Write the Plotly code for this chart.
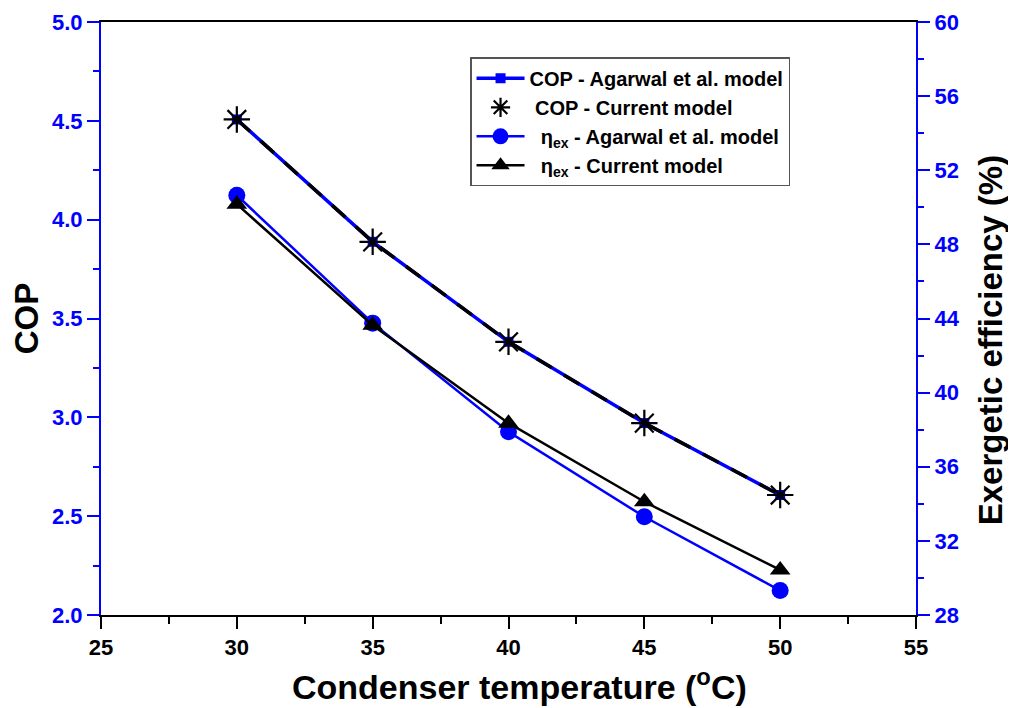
import plotly.graph_objects as go

temps = [30, 35, 40, 45, 50]
cop_agarwal = [4.507, 3.888, 3.382, 2.971, 2.607]
cop_current = [4.507, 3.888, 3.382, 2.971, 2.607]
eta_agarwal = [50.65, 43.75, 37.89, 33.30, 29.32]
eta_current = [50.17, 43.64, 38.35, 34.11, 30.43]

x_ticks = [25, 30, 35, 40, 45, 50, 55]
cop_ticks = [2.0, 2.5, 3.0, 3.5, 4.0, 4.5, 5.0]
eta_ticks = [28, 32, 36, 40, 44, 48, 52, 56, 60]

BLUE = "#0000ff"
FONT = "Liberation Sans"

fig = go.Figure()

fig.add_trace(go.Scatter(
    x=temps, y=cop_agarwal, name="COP - Agarwal et al. model",
    mode="lines+markers", line=dict(color=BLUE, width=3.5),
    marker=dict(symbol="square", size=10, color=BLUE),
))
fig.add_trace(go.Scatter(
    x=temps, y=cop_current, showlegend=False, hoverinfo="skip",
    mode="lines", line=dict(color="black", width=3.5, dash="18px,14px"),
))
fig.add_trace(go.Scatter(
    x=temps, y=cop_current, name="&nbsp;COP - Current model",
    mode="markers",
    marker=dict(symbol="asterisk-open", size=22, color="black",
                line=dict(color="black", width=2.2)),
))
fig.add_trace(go.Scatter(
    x=temps, y=eta_agarwal, name="&nbsp;&nbsp;η<sub>ex</sub> - Agarwal et al. model",
    yaxis="y2", mode="lines+markers", line=dict(color=BLUE, width=2.5),
    marker=dict(symbol="circle", size=17, color=BLUE),
))
fig.add_trace(go.Scatter(
    x=temps, y=eta_current, name="&nbsp;&nbsp;η<sub>ex</sub> - Current model",
    yaxis="y2", mode="lines+markers", line=dict(color="black", width=2.5),
    marker=dict(symbol="triangle-up", size=18, color="black"),
))

tickfont_blue = dict(family=FONT, size=22, color=BLUE, weight=700)
tickfont_black = dict(family=FONT, size=22, color="black", weight=700)
title_font = dict(family=FONT, size=33, color="black", weight=700)

fig.update_layout(
    width=1016, height=708,
    margin=dict(l=93, r=108, t=14, b=101, autoexpand=False),
    paper_bgcolor="white", plot_bgcolor="white",
    font=dict(family=FONT),
    showlegend=True,
    legend=dict(
        x=0.4528, y=0.9405, xanchor="left", yanchor="top",
        bgcolor="white", bordercolor="#555555", borderwidth=1.5,
        font=dict(family=FONT, size=20, color="black", weight=700),
        itemwidth=48, tracegroupgap=0,
    ),
    xaxis=dict(
        range=[25, 55], automargin=False,
        tickvals=x_ticks, ticktext=[str(v) for v in x_ticks],
        showgrid=False, zeroline=False,
        showline=True, linecolor="black", linewidth=2, mirror=True,
        ticks="outside", ticklen=12, tickwidth=2, tickcolor="black",
        minor=dict(ticks="outside", ticklen=7, tickwidth=2, tickcolor="black", dtick=2.5, tick0=25),
        tickfont=tickfont_black,
    ),
    yaxis=dict(
        range=[2.0, 5.0], automargin=False,
        tickvals=cop_ticks, ticktext=[f"{v:.1f}" for v in cop_ticks],
        showgrid=False, zeroline=False,
        showline=True, linecolor=BLUE, linewidth=2,
        ticks="outside", ticklen=12, tickwidth=2, tickcolor=BLUE,
        minor=dict(ticks="outside", ticklen=6, tickwidth=2, tickcolor=BLUE, dtick=0.25, tick0=2.0),
        tickfont=tickfont_blue,
        title=dict(text="COP", font=title_font, standoff=12),
    ),
    yaxis2=dict(
        range=[28, 60], automargin=False,
        tickvals=eta_ticks, ticktext=[str(v) for v in eta_ticks],
        overlaying="y", side="right",
        showgrid=False, zeroline=False,
        showline=True, linecolor=BLUE, linewidth=2,
        ticks="outside", ticklen=12, tickwidth=2, tickcolor=BLUE,
        minor=dict(ticks="outside", ticklen=6, tickwidth=2, tickcolor=BLUE, dtick=2, tick0=28),
        tickfont=tickfont_blue,
    ),
    annotations=[
        dict(text="Condenser temperature (<sup>o</sup>C)", xref="paper", yref="paper",
             x=0.514, y=-0.117, xanchor="center", yanchor="middle",
             showarrow=False, font=dict(family=FONT, size=34, color="black", weight=700)),
        dict(text="Exergetic efficiency (%)", xref="paper", yref="paper",
             x=1.091, y=0.4635, xanchor="center", yanchor="middle", textangle=-90,
             showarrow=False, font=title_font),
    ],
)

fig.write_html("out.html")
